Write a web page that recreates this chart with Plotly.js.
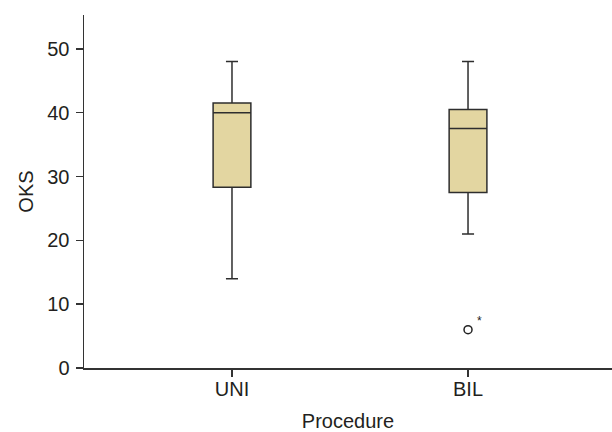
<!DOCTYPE html>
<html>
<head>
<meta charset="utf-8">
<script src="https://cdn.plot.ly/plotly-3.0.1.min.js"></script>
<style>html,body{margin:0;padding:0;background:#fff;}#chart{width:612px;height:432px;}</style>
</head>
<body>
<div id="chart"></div>
<script>
const categories = ['UNI', 'BIL'];
const lowerWhisker = [14, 21];
const q1Values = [28.3, 27.5];
const medianValues = [40, 37.5];
const q3Values = [41.5, 40.5];
const upperWhisker = [48, 48];
const outlierCategory = ['BIL'];
const outlierValues = [6];
const outlierLabel = ['*'];
const yTicks = [0, 10, 20, 30, 40, 50];

const boxTrace = {
  type: 'box',
  x: categories,
  q1: q1Values,
  median: medianValues,
  q3: q3Values,
  lowerfence: lowerWhisker,
  upperfence: upperWhisker,
  boxpoints: false,
  width: 0.16,
  whiskerwidth: 0.32,
  fillcolor: '#e3d6a1',
  line: {color: '#2e2e2e', width: 1.5},
  hoverinfo: 'skip',
  showlegend: false
};

const outlierTrace = {
  type: 'scatter',
  mode: 'markers',
  x: outlierCategory,
  y: outlierValues,
  marker: {symbol: 'circle-open', size: 8, color: '#222', line: {width: 1.5, color: '#222'}},
  showlegend: false,
  hoverinfo: 'skip'
};

const layout = {
  width: 612,
  height: 432,
  margin: {l: 84, r: 0, t: 15, b: 64},
  paper_bgcolor: '#fff',
  plot_bgcolor: '#fff',
  font: {family: 'Liberation Sans, Arial, sans-serif', color: '#231f20', size: 20},
  showlegend: false,
  xaxis: {
    type: 'category',
    categoryorder: 'array',
    categoryarray: categories,
    range: [-0.627, 1.61],
    showgrid: false,
    zeroline: false,
    showline: true,
    linecolor: '#333',
    linewidth: 1.5,
    ticks: 'outside',
    ticklen: 7,
    tickwidth: 1.5,
    tickcolor: '#333',
    tickfont: {size: 20},
    ticklabelstandoff: -5,
    title: {text: 'Procedure', font: {size: 20}, standoff: 16}
  },
  yaxis: {
    range: [0, 55.3],
    tickvals: yTicks,
    showgrid: false,
    zeroline: false,
    showline: true,
    linecolor: '#333',
    linewidth: 1.5,
    ticks: 'outside',
    ticklen: 7,
    tickwidth: 1.5,
    tickcolor: '#333',
    tickfont: {size: 20},
    ticklabelstandoff: 2,
    title: {text: 'OKS', font: {size: 20}, standoff: 8}
  },
  annotations: outlierCategory.map((c, i) => ({
    x: c, y: outlierValues[i], xref: 'x', yref: 'y',
    text: outlierLabel[i], showarrow: false,
    xshift: 11, yshift: 9, font: {size: 12, color: '#222'}
  }))
};

Plotly.newPlot('chart', [boxTrace, outlierTrace], layout, {displayModeBar: false, staticPlot: true});
</script>
</body>
</html>
